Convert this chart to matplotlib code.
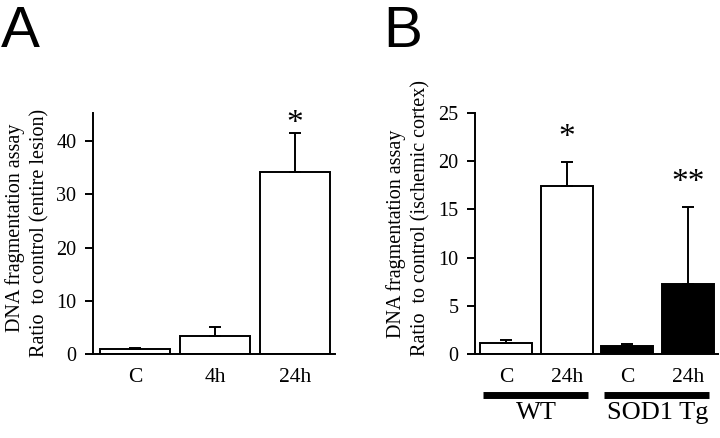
import matplotlib
matplotlib.use("Agg")
import matplotlib.pyplot as plt
import matplotlib.transforms as mtransforms

# Panel A data
a_cats = ["C", "4h", "24h"]
a_vals = [0.9, 3.4, 34.3]
a_errs = [0.25, 1.6, 7.2]

# Panel B data
b_cats = ["C", "24h", "C", "24h"]
b_vals = [1.1, 17.4, 0.85, 7.3]
b_errs = [0.35, 2.5, 0.15, 8.0]
b_colors = ["white", "white", "black", "black"]
b_groups = ["WT", "SOD1 Tg"]

SERIF = ["Liberation Serif", "DejaVu Serif"]
SANS = ["Liberation Sans", "DejaVu Sans"]

fig = plt.figure(figsize=(7.2, 4.38), dpi=100)
H = 438.0
W = 720.0


def make_ax(left_px, right_px, top_px, bottom_px):
    return fig.add_axes([left_px / W, (H - bottom_px) / H,
                         (right_px - left_px) / W, (bottom_px - top_px) / H])


def style(ax):
    for s in ["top", "right"]:
        ax.spines[s].set_visible(False)
    for s in ["left", "bottom"]:
        ax.spines[s].set_linewidth(1.4)
    ax.tick_params(axis="y", direction="out", length=6, width=1.4, pad=6,
                   labelsize=14.5)
    ax.tick_params(axis="x", length=0, pad=10, labelsize=15.5)
    for lab in ax.get_xticklabels() + ax.get_yticklabels():
        lab.set_family(SERIF)


def px2data_dy(ax, px):
    y0, y1 = ax.get_ylim()
    hpx = ax.get_position().height * H
    return px * (y1 - y0) / hpx


# ---------- Panel A ----------
axA = make_ax(93, 335, 113, 354)
xa = list(range(len(a_cats)))
axA.bar(xa, a_vals, width=0.875, color="white", edgecolor="black",
        linewidth=1.4, zorder=2)
axA.errorbar(xa, a_vals, yerr=[[0] * len(a_errs), a_errs], fmt="none",
             ecolor="black", elinewidth=1.4, capsize=4, capthick=1.4, zorder=3)
axA.set_xlim(-0.525, 2.5)
axA.set_ylim(0, 45.3)
axA.set_yticks([0, 10, 20, 30, 40])
axA.set_xticks(xa)
axA.set_xticklabels(a_cats)
style(axA)
axA.text(2, a_vals[2] + a_errs[2] + px2data_dy(axA, 9), "*", ha="center",
         va="center", fontsize=24, family=SERIF)
fig.text(15 / W, 1 - 228 / H, "DNA fragmentation assay", rotation=90,
         ha="center", va="center", fontsize=14.5, family=SERIF)
fig.text(40 / W, 1 - 233 / H, "Ratio  to control (entire lesion)", rotation=90,
         ha="center", va="center", fontsize=14.5, family=SERIF)
fig.text(1 / W, 1 - 47 / H, "A", ha="left", va="baseline", fontsize=42,
         family=SANS)

# ---------- Panel B ----------
axB = make_ax(475, 718, 113, 354)
xb = list(range(len(b_cats)))
axB.bar(xb, b_vals, width=0.86, color=b_colors, edgecolor="black",
        linewidth=1.4, zorder=2)
axB.errorbar(xb, b_vals, yerr=[[0] * len(b_errs), b_errs], fmt="none",
             ecolor="black", elinewidth=1.4, capsize=4, capthick=1.4, zorder=3)
axB.set_xlim(-0.52, 3.5)
axB.set_ylim(0, 25)
axB.set_yticks([0, 5, 10, 15, 20, 25])
axB.set_xticks(xb)
axB.set_xticklabels(b_cats)
style(axB)
axB.text(1, b_vals[1] + b_errs[1] + px2data_dy(axB, 24), "*", ha="center",
         va="center", fontsize=24, family=SERIF)
axB.text(3, b_vals[3] + b_errs[3] + px2data_dy(axB, 24), "**", ha="center",
         va="center", fontsize=24, family=SERIF)

trans = mtransforms.blended_transform_factory(axB.transData, axB.transAxes)
for gi, gname in enumerate(b_groups):
    x0 = 2 * gi - 0.38
    x1 = 2 * gi + 1.35
    axB.plot([x0, x1], [-0.17, -0.17], transform=trans, color="black",
             linewidth=5, solid_capstyle="butt", clip_on=False)
    axB.text(2 * gi + 0.5, -0.245, gname, transform=trans, ha="center",
             va="center", fontsize=19, family=SERIF)

fig.text(396 / W, 1 - 234 / H, "DNA fragmentation assay", rotation=90,
         ha="center", va="center", fontsize=14.5, family=SERIF)
fig.text(421 / W, 1 - 218 / H, "Ratio  to control (ischemic cortex)",
         rotation=90, ha="center", va="center", fontsize=14.5, family=SERIF)
fig.text(383 / W, 1 - 47 / H, "B", ha="left", va="baseline", fontsize=42,
         family=SANS)

fig.savefig("out.png", dpi=100)
